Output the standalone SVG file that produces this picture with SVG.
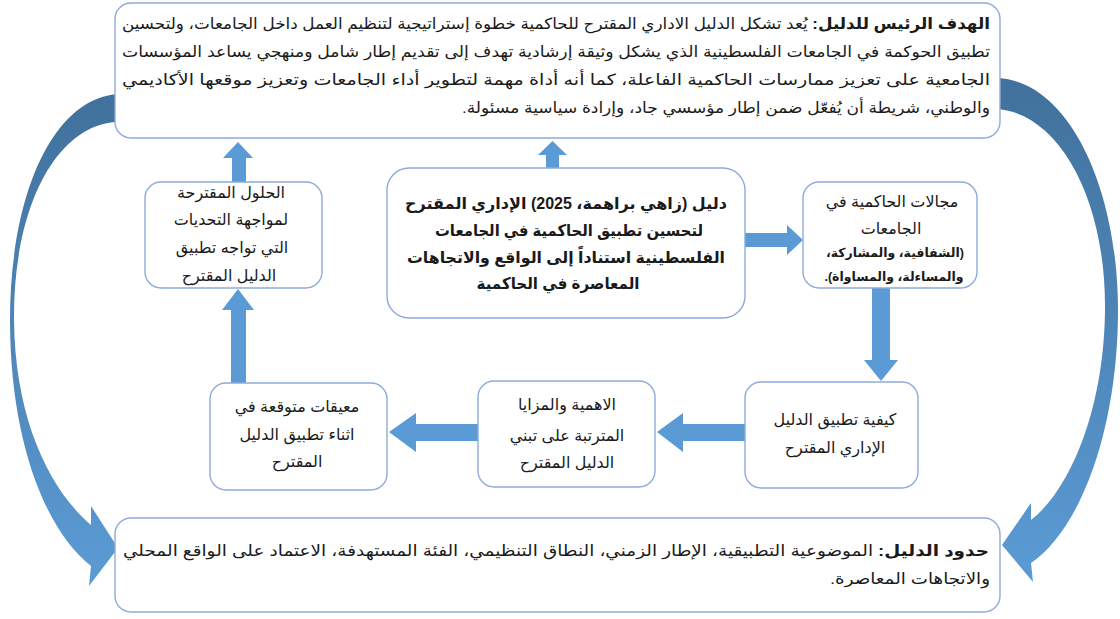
<svg xmlns="http://www.w3.org/2000/svg" width="1120" height="619" viewBox="0 0 1120 619">
<style>
.box{fill:#ffffff;stroke:#8eaadb;stroke-width:1.4}
.arw{fill:#5b9bd5}
.t{font-family:"Liberation Sans","DejaVu Sans",sans-serif;font-size:16px;fill:#1a1a1a;direction:rtl}
.p{font-size:15.5px}
.c{text-anchor:middle}
.b{font-weight:bold}
.s{font-size:12.5px;font-weight:bold}
.m{font-size:16px;font-weight:bold}
</style>
<defs>
<linearGradient id="gL" x1="0" y1="0" x2="0" y2="1">
<stop offset="0" stop-color="#41719c"/><stop offset="1" stop-color="#5b9bd5"/>
</linearGradient>
</defs>
<g id="connectors">
<path fill="url(#gL)" d="M117,94 C50,100 10,200 10,320 C10,440 45,530 91,566 L89,586 L118,548 L91,506 L91,525 C50,490 15,420 14,320 C13,210 55,125 117,122 Z"/>
<path fill="url(#gL)" d="M998,78 C1070,82 1118,190 1118,310 C1118,430 1080,530 1031,563 L1033,582 L1002,545 L1031,503 L1031,520 C1070,490 1104,410 1105,310 C1106,200 1060,115 998,109 Z"/>
<polygon class="arw" points="546,170 546,155 538,155 552.5,141 567,155 559,155 559,170"/>
<polygon class="arw" points="232,184 232,158 223,158 238,142 253,158 246,158 246,184"/>
<polygon class="arw" points="745,233 787,233 787,225 803,240 787,255 787,247 745,247"/>
<polygon class="arw" points="872,288 872,360 864,360 881,381 898,360 890,360 890,288"/>
<polygon class="arw" points="746,424 683,424 683,413 657,432 683,452 683,441 746,441"/>
<polygon class="arw" points="479,424 416,424 416,413 389,432 416,452 416,441 479,441"/>
<polygon class="arw" points="231,384 231,310 222,310 238,289 254,310 246,310 246,384"/>
</g>
<g id="goal">
<rect class="box" x="115" y="3" width="885" height="135" rx="16"/>
<text class="t p c" x="556" y="29" textLength="868" lengthAdjust="spacingAndGlyphs"><tspan class="b">الهدف الرئيس للدليل:</tspan> يُعد تشكل الدليل الاداري المقترح للحاكمية خطوة إستراتيجية لتنظيم العمل داخل الجامعات، ولتحسين</text>
<text class="t p c" x="556" y="57" textLength="868" lengthAdjust="spacingAndGlyphs">تطبيق الحوكمة في الجامعات الفلسطينية الذي يشكل وثيقة إرشادية تهدف إلى تقديم إطار شامل ومنهجي يساعد المؤسسات</text>
<text class="t p c" x="556" y="85" textLength="868" lengthAdjust="spacingAndGlyphs">الجامعية على تعزيز ممارسات الحاكمية الفاعلة، كما أنه أداة مهمة لتطوير أداء الجامعات وتعزيز موقعها الأكاديمي</text>
<text class="t p c" x="726" y="113" textLength="528" lengthAdjust="spacingAndGlyphs">والوطني، شريطة أن يُفعّل ضمن إطار مؤسسي جاد، وإرادة سياسية مسئولة.</text>
</g>
<g id="solutions">
<rect class="box" x="145" y="182" width="177" height="106" rx="16"/>
<text class="t c" x="231" y="198">الحلول المقترحة</text>
<text class="t c" x="231" y="225">لمواجهة التحديات</text>
<text class="t c" x="232" y="253">التي تواجه تطبيق</text>
<text class="t c" x="229" y="281">الدليل المقترح</text>
</g>
<g id="guide">
<rect class="box" x="387" y="168" width="358" height="150" rx="22"/>
<text class="t m c" x="566" y="209" textLength="322" lengthAdjust="spacingAndGlyphs">دليل (زاهي براهمة، 2025) الإداري المقترح</text>
<text class="t m c" x="569" y="236" textLength="268" lengthAdjust="spacingAndGlyphs">لتحسين تطبيق الحاكمية في الجامعات</text>
<text class="t m c" x="566" y="263" textLength="318" lengthAdjust="spacingAndGlyphs">الفلسطينية استناداً إلى الواقع والاتجاهات</text>
<text class="t m c" x="558" y="289" textLength="163" lengthAdjust="spacingAndGlyphs">المعاصرة في الحاكمية</text>
</g>
<g id="domains">
<rect class="box" x="803" y="182" width="174" height="106" rx="16"/>
<text class="t c" x="892" y="207">مجالات الحاكمية في</text>
<text class="t c" x="891" y="234">الجامعات</text>
<text class="t s c" x="895" y="257">(الشفافية، والمشاركة،</text>
<text class="t s c" x="894" y="281">والمساءلة، والمساواة).</text>
</g>
<g id="how">
<rect class="box" x="745" y="382" width="173" height="106" rx="16"/>
<text class="t c" x="835" y="425">كيفية تطبيق الدليل</text>
<text class="t c" x="835" y="453">الإداري المقترح</text>
</g>
<g id="benefits">
<rect class="box" x="478" y="381" width="177" height="106" rx="16"/>
<text class="t c" x="567" y="410">الاهمية والمزايا</text>
<text class="t c" x="567" y="441">المترتبة على تبني</text>
<text class="t c" x="567" y="468">الدليل المقترح</text>
</g>
<g id="obstacles">
<rect class="box" x="210" y="383" width="177" height="107" rx="16"/>
<text class="t c" x="297" y="412">معيقات متوقعة في</text>
<text class="t c" x="297" y="440">اثناء تطبيق الدليل</text>
<text class="t c" x="297" y="467">المقترح</text>
</g>
<g id="limits">
<rect class="box" x="115" y="518" width="885" height="94" rx="16"/>
<text class="t p c" x="556" y="556" textLength="866" lengthAdjust="spacingAndGlyphs"><tspan class="b">حدود الدليل:</tspan> الموضوعية التطبيقية، الإطار الزمني، النطاق التنظيمي، الفئة المستهدفة، الاعتماد على الواقع المحلي</text>
<text class="t p c" x="910" y="584" textLength="160" lengthAdjust="spacingAndGlyphs">والاتجاهات المعاصرة.</text>
</g>
</svg>
